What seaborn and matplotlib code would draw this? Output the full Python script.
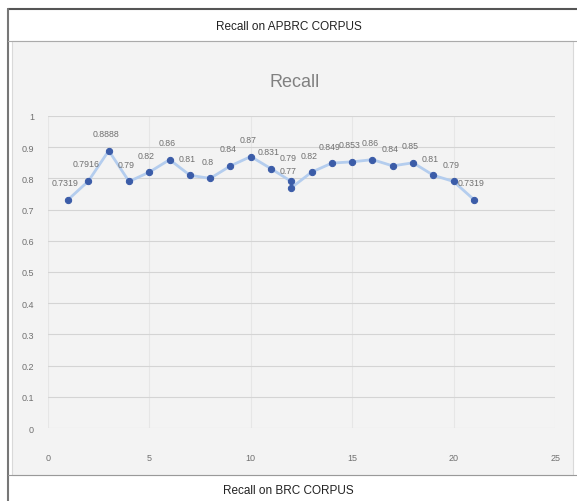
import matplotlib
matplotlib.use('Agg')
import matplotlib.pyplot as plt
import seaborn as sns
import pandas as pd
from matplotlib.patches import Rectangle
from matplotlib.lines import Line2D

# Data
runs = [1, 2, 3, 4, 5, 6, 7, 8, 9, 10, 11, 12, 12, 13, 14, 15, 16, 17, 18, 19, 20, 21]
recall = [0.7319, 0.7916, 0.8888, 0.79, 0.82, 0.86, 0.81, 0.80, 0.84, 0.87, 0.831,
          0.79, 0.77, 0.82, 0.849, 0.853, 0.86, 0.84, 0.85, 0.81, 0.79, 0.7319]
point_labels = ['0.7319', '0.7916', '0.8888', '0.79', '0.82', '0.86', '0.81', '0.8', '0.84',
                '0.87', '0.831', '0.79', '0.77', '0.82', '0.849', '0.853', '0.86', '0.84',
                '0.85', '0.81', '0.79', '0.7319']
x_ticks = [0, 5, 10, 15, 20, 25]
y_ticks = [0, 0.1, 0.2, 0.3, 0.4, 0.5, 0.6, 0.7, 0.8, 0.9, 1]

df = pd.DataFrame({'run': runs, 'recall': recall})

sns.set_style('white')
plt.rcParams['font.family'] = ['Liberation Sans Narrow', 'Liberation Sans', 'DejaVu Sans']

fig = plt.figure(figsize=(5.77, 5.02), dpi=100)

# chart area background and outer frame
fig.patches.append(Rectangle((0.021, 0.052), 0.972, 0.865, transform=fig.transFigure,
                             facecolor='#f3f3f3', edgecolor='#d9d9d9', lw=0.8, zorder=-5))
fig.add_artist(Line2D([0.014, 1.0], [0.980, 0.980], color='#555555', lw=1.5))
fig.add_artist(Line2D([0.014, 0.014], [0.0, 0.980], color='#777777', lw=1.5))
fig.add_artist(Line2D([0.014, 1.0], [0.917, 0.917], color='#aaaaaa', lw=0.8))
fig.add_artist(Line2D([0.014, 1.0], [0.052, 0.052], color='#999999', lw=0.8))

fig.text(0.5, 0.946, 'Recall on APBRC CORPUS', ha='center', va='center', fontsize=8.5, color='#222222')
fig.text(0.5, 0.022, 'Recall on BRC CORPUS', ha='center', va='center', fontsize=8.5, color='#222222')
fig.text(0.51, 0.835, 'Recall', ha='center', va='center', fontsize=13, color='#808080')

ax = fig.add_axes([0.083, 0.1454, 0.879, 0.6216])
ax.set_zorder(5)
ax.set_facecolor('none')

sns.lineplot(data=df, x='run', y='recall', ax=ax, estimator=None, sort=False,
             color='#b4cdee', lw=2.0, marker='o', markersize=4.5,
             markerfacecolor='#3b5ca8', markeredgecolor='#3b5ca8')

for i, (xv, yv, lab) in enumerate(zip(runs, recall, point_labels)):
    dy = 9
    # the two points at x=12 sit on top of each other; lift the upper label a bit
    if i == 11:
        dy = 14
    ax.annotate(lab, (xv, yv), xytext=(-2, dy), textcoords='offset points',
                ha='center', va='bottom', fontsize=6.3, color='#707070')

ax.set_xlim(0, 25)
ax.set_ylim(0, 1)
ax.set_xticks(x_ticks)
ax.set_yticks(y_ticks)
ax.set_yticklabels(['0', '0.1', '0.2', '0.3', '0.4', '0.5', '0.6', '0.7', '0.8', '0.9', '1'])
ax.grid(True, axis='y', color='#d4d4d4', lw=0.8)
ax.grid(True, axis='x', color='#e6e6e6', lw=0.8)
for s in ax.spines.values():
    s.set_visible(False)
ax.tick_params(axis='both', length=0, labelsize=6.5, labelcolor='#707070')
ax.tick_params(axis='x', pad=18)
ax.tick_params(axis='y', pad=10)
ax.set_xlabel('')
ax.set_ylabel('')

fig.savefig('out.png', dpi=100)
